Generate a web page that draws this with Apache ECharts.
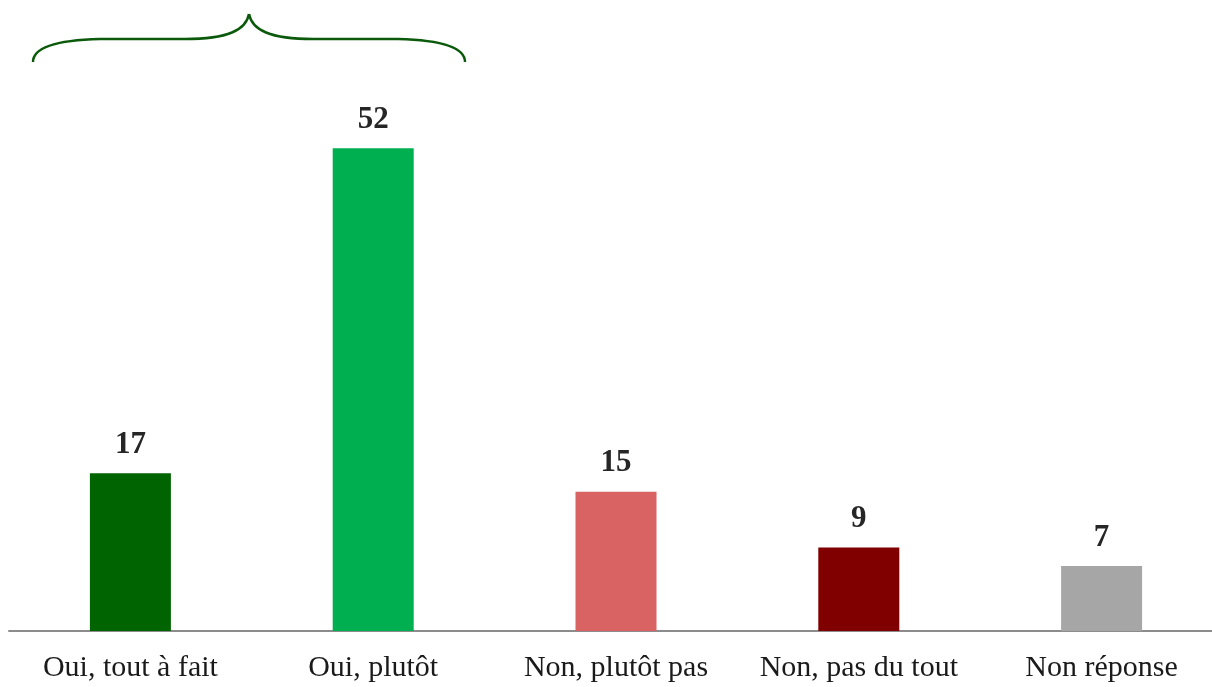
<!DOCTYPE html>
<html>
<head>
<meta charset="utf-8">
<script src="https://cdn.jsdelivr.net/npm/echarts@6/dist/echarts.min.js"></script>
<style>
  html, body { margin: 0; padding: 0; background: #fff; overflow: hidden; }
  #chart { width: 1224px; height: 687px; }
</style>
</head>
<body>
<div id="chart"></div>
<script>
// données
const categories = ["Oui, tout à fait", "Oui, plutôt", "Non, plutôt pas", "Non, pas du tout", "Non réponse"];
const values = [17, 52, 15, 9, 7];
const barColors = ["#006400", "#00b050", "#d96262", "#800000", "#a6a6a6"];

const chart = echarts.init(document.getElementById("chart"));

const braceStyle = { stroke: "#0b5a0b", lineWidth: 2.5, fill: null };
function curve(x1, y1, cpx1, cpy1, cpx2, cpy2, x2, y2) {
  return { type: "bezierCurve", shape: { x1, y1, cpx1, cpy1, cpx2, cpy2, x2, y2 }, style: braceStyle };
}
function seg(x1, y1, x2, y2) {
  return { type: "line", shape: { x1, y1, x2, y2 }, style: braceStyle };
}

const option = {
  animation: false,
  // le graphique déborde légèrement à droite, comme l'original
  grid: { left: 9, top: 74, right: 1, bottom: 56, containLabel: false },
  xAxis: {
    type: "category",
    data: categories,
    axisLine: { lineStyle: { color: "#8c8c8c", width: 2 } },
    axisTick: { show: false },
    axisLabel: {
      interval: 0,
      margin: 22,
      color: "#1a1a1a",
      fontFamily: "Liberation Serif",
      fontSize: 30
    }
  },
  yAxis: {
    type: "value",
    min: 0,
    max: 60,
    show: false,
    splitLine: { show: false }
  },
  series: [
    {
      type: "bar",
      barWidth: 81,
      data: values.map((v, i) => ({ value: v, itemStyle: { color: barColors[i] } })),
      label: {
        show: true,
        position: "top",
        distance: 13,
        color: "#262626",
        fontFamily: "Liberation Serif",
        fontWeight: "bold",
        fontSize: 31
      }
    }
  ],
  // accolade au-dessus des deux "Oui"
  graphic: [
    curve(33, 62, 33, 46, 60, 40, 100, 39),
    seg(100, 39, 185, 39),
    curve(185, 39, 228, 39, 246, 30, 249, 14),
    curve(249, 14, 252, 30, 270, 39, 313, 39),
    seg(313, 39, 398, 39),
    curve(398, 39, 438, 40, 465, 46, 465, 62)
  ]
};

chart.setOption(option);
</script>
</body>
</html>
